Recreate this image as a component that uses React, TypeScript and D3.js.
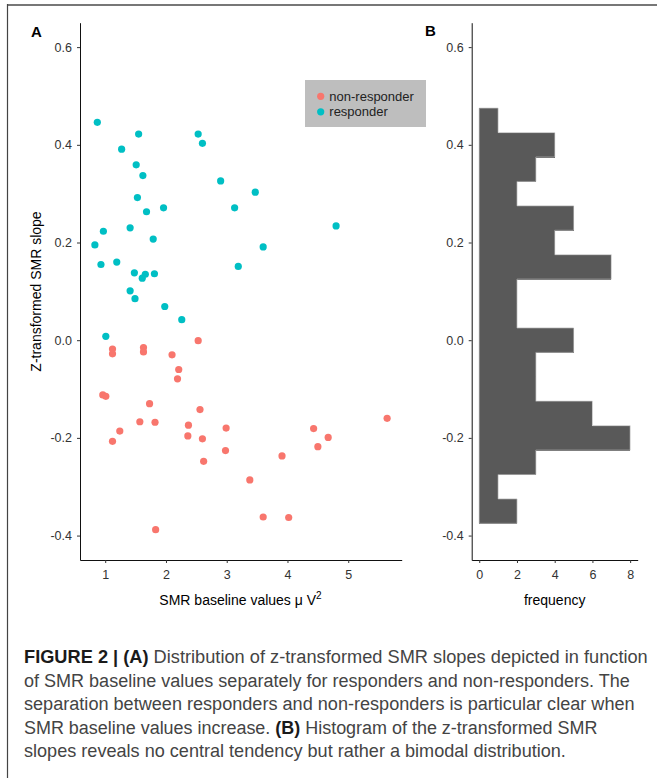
import React, { useEffect, useRef } from 'react'
import * as d3 from 'd3'

// responders (cyan)
const responderX = [0.87, 1.55, 1.27, 1.51, 1.62, 2.53, 2.6, 2.9, 3.47, 1.53, 1.96, 1.68, 3.13, 4.8, 0.97, 1.41, 1.79, 0.83, 3.6, 0.93, 1.19, 3.19, 1.48, 1.66, 1.61, 1.81, 1.41, 1.49, 1.98, 2.26, 1.01]
const responderY = [0.446, 0.422, 0.391, 0.359, 0.337, 0.422, 0.403, 0.326, 0.303, 0.292, 0.271, 0.263, 0.271, 0.234, 0.223, 0.23, 0.207, 0.195, 0.191, 0.155, 0.16, 0.151, 0.138, 0.135, 0.127, 0.136, 0.101, 0.085, 0.069, 0.042, 0.008]

// non-responders (red)
const nonResponderX = [2.53, 1.12, 1.12, 1.63, 1.63, 2.1, 2.21, 2.19, 0.96, 1.01, 1.73, 2.56, 1.57, 1.82, 5.64, 1.24, 2.37, 2.99, 4.43, 1.12, 2.36, 2.6, 4.67, 4.5, 2.98, 2.62, 3.91, 3.38, 3.6, 4.02, 1.83]
const nonResponderY = [-0.001, -0.018, -0.028, -0.015, -0.024, -0.03, -0.06, -0.079, -0.112, -0.115, -0.13, -0.142, -0.167, -0.168, -0.16, -0.186, -0.174, -0.18, -0.181, -0.207, -0.196, -0.202, -0.199, -0.218, -0.226, -0.248, -0.237, -0.286, -0.362, -0.363, -0.388]

// histogram, bins from bottom to top
const histStart = -0.375
const histBinWidth = 0.05
const histCounts = [2, 1, 3, 8, 6, 3, 3, 5, 2, 2, 7, 4, 5, 2, 3, 4, 1]

const yTicks = [-0.4, -0.2, 0, 0.2, 0.4, 0.6]
const xTicks = [1, 2, 3, 4, 5]
const freqTicks = [0, 2, 4, 6, 8]

const groups = ['non-responder', 'responder']
const groupColors = ['#F8766D', '#00BFC4']

const captionLines: [string, boolean][][] = [
  [['FIGURE 2 | (A)', true], [' Distribution of z-transformed SMR slopes depicted in function', false]],
  [['of SMR baseline values separately for responders and non-responders. The', false]],
  [['separation between responders and non-responders is particular clear when', false]],
  [['SMR baseline values increase. ', false], ['(B)', true], [' Histogram of the z-transformed SMR', false]],
  [['slopes reveals no central tendency but rather a bimodal distribution.', false]],
]
const captionEnds = [648, 630, 635, 598, 566]

export const App = () => {
  const ref = useRef(null)

  useEffect(() => {
    const width = 657
    const height = 778
    const font = 'Liberation Sans, Arial, sans-serif'

    const svg = d3.select(ref.current).attr('width', width).attr('height', height)
    svg.selectAll('*').remove()

    // frame
    svg.append('line').attr('x1', 7.5).attr('x2', 657).attr('y1', 5).attr('y2', 5)
      .attr('stroke', '#777').attr('stroke-width', 2)
    svg.append('line').attr('x1', 7.5).attr('x2', 7.5).attr('y1', 4).attr('y2', 778)
      .attr('stroke', '#444').attr('stroke-width', 1.2)

    const y = d3.scaleLinear().domain([-0.45, 0.65]).range([560, 22.7])
    const x = d3.scaleLinear().domain([0.585, 5.88]).range([80, 401.7])
    const xf = d3.scaleLinear().domain([-0.4, 8.4]).range([471.7, 637.7])

    const styleAxis = (g) => {
      g.selectAll('path.domain').attr('stroke', '#111').attr('stroke-width', 1)
      g.selectAll('.tick line').attr('stroke', '#333').attr('stroke-width', 1)
      g.selectAll('.tick text').attr('fill', '#333').style('font-family', font).style('font-size', '12.5px')
    }

    const fmt = (d) => d.toFixed(1)

    // ---- panel A: scatter ----
    const pts = [
      ...nonResponderX.map((v, i) => ({ x: v, y: nonResponderY[i], g: 0 })),
      ...responderX.map((v, i) => ({ x: v, y: responderY[i], g: 1 })),
    ]
    svg.append('g').selectAll('circle').data(pts).enter().append('circle')
      .attr('cx', (d) => x(d.x)).attr('cy', (d) => y(d.y)).attr('r', 3.6)
      .attr('fill', (d) => groupColors[d.g])

    svg.append('g').attr('transform', 'translate(80,0)')
      .call(d3.axisLeft(y).tickValues(yTicks).tickFormat(fmt).tickSize(3).tickSizeOuter(0).tickPadding(5))
      .call(styleAxis)
    svg.append('g').attr('transform', 'translate(0,560)')
      .call(d3.axisBottom(x).tickValues(xTicks).tickFormat(d3.format('d')).tickSize(3).tickSizeOuter(0).tickPadding(7))
      .call(styleAxis)

    svg.append('text').attr('transform', 'translate(41,291.5) rotate(-90)')
      .attr('text-anchor', 'middle').style('font-family', font).style('font-size', '14px')
      .text('Z-transformed SMR slope')
    const xt = svg.append('text').attr('x', 240.5).attr('y', 605)
      .attr('text-anchor', 'middle').style('font-family', font).style('font-size', '14px')
    xt.append('tspan').text('SMR baseline values \u03bc V')
    xt.append('tspan').attr('dy', -6).style('font-size', '10px').text('2')

    svg.append('text').attr('x', 31).attr('y', 37).style('font-family', font)
      .style('font-size', '15px').style('font-weight', 'bold').text('A')

    // legend
    svg.append('rect').attr('x', 305).attr('y', 80).attr('width', 121).attr('height', 47).attr('fill', '#bebebe')
    groups.forEach((name, i) => {
      svg.append('circle').attr('cx', 320.7).attr('cy', 96.3 + i * 15.5).attr('r', 3.6).attr('fill', groupColors[i])
      svg.append('text').attr('x', 329.3).attr('y', 100.8 + i * 15.5).style('font-family', font)
        .style('font-size', '13px').attr('fill', '#222').text(name)
    })

    // ---- panel B: histogram ----
    const bins = histCounts.map((c, i) => ({ y0: histStart + i * histBinWidth, y1: histStart + (i + 1) * histBinWidth, c }))
    svg.append('g').attr('shape-rendering', 'crispEdges').selectAll('rect').data(bins).enter().append('rect')
      .attr('x', xf(0)).attr('y', (d) => y(d.y1)).attr('width', (d) => xf(d.c) - xf(0))
      .attr('height', (d) => y(d.y0) - y(d.y1) + 0.5)
      .attr('fill', '#595959')

    // light outline around the stepped shape
    const path = d3.path()
    path.moveTo(xf(0), y(bins[0].y0))
    bins.forEach((b) => {
      path.lineTo(xf(b.c), y(b.y0))
      path.lineTo(xf(b.c), y(b.y1))
    })
    path.lineTo(xf(0), y(bins[bins.length - 1].y1))
    path.closePath()
    svg.append('path').attr('d', path.toString()).attr('fill', 'none')
      .attr('stroke', '#b4b4b4').attr('stroke-width', 0.7)

    svg.append('g').attr('transform', 'translate(471.7,0)')
      .call(d3.axisLeft(y).tickValues(yTicks).tickFormat(fmt).tickSize(3).tickSizeOuter(0).tickPadding(5))
      .call(styleAxis)
    svg.append('g').attr('transform', 'translate(0,560)')
      .call(d3.axisBottom(xf).tickValues(freqTicks).tickFormat(d3.format('d')).tickSize(3).tickSizeOuter(0).tickPadding(7))
      .call(styleAxis)

    svg.append('text').attr('x', 554.7).attr('y', 605).attr('text-anchor', 'middle')
      .style('font-family', font).style('font-size', '14px').text('frequency')
    svg.append('text').attr('x', 425).attr('y', 36).style('font-family', font)
      .style('font-size', '15px').style('font-weight', 'bold').text('B')

    // ---- caption (horizontally squeezed to the narrow look of the original) ----
    captionLines.forEach((parts, i) => {
      const ty = 663.3 + i * 23.4
      const t = svg.append('text').attr('x', 0).attr('y', 0)
        .style('font-family', font).style('font-size', '19px')
      parts.forEach(([s, bold]) => {
        t.append('tspan').text(s).attr('fill', bold ? '#1a1a1a' : '#444')
          .style('font-weight', bold ? 'bold' : 'normal')
      })
      const natural = (t.node() as SVGTextElement).getComputedTextLength() || 1
      const k = (captionEnds[i] - 24) / natural
      t.attr('transform', `translate(24,${ty}) scale(${k},1)`)
    })
  }, [])

  return (
    <div style={{ position: 'absolute', left: 0, top: 0 }}>
      <svg ref={ref} style={{ display: 'block' }}></svg>
    </div>
  )
}

export default App
